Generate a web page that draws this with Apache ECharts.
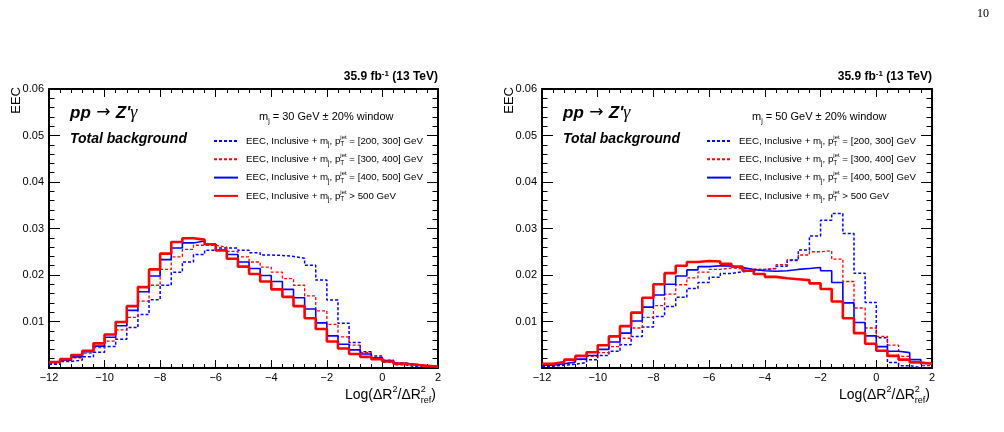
<!DOCTYPE html>
<html style="height: 100%">
<head>
<meta charset="utf-8">
<script src="https://cdn.jsdelivr.net/npm/echarts@6/dist/echarts.min.js"></script>
</head>
<body style="height: 100%; margin: 0; background: #fff">
<div id="container" style="width: 1004px; height: 432px"></div>
<script type="text/javascript">
// bin edges, Log(dR^2/dR^2_ref), 0.4 wide
var binEdges = [-12, -11.6, -11.2, -10.8, -10.4, -10, -9.6, -9.2, -8.8, -8.4,
  -8, -7.6, -7.2, -6.8, -6.4, -6, -5.6, -5.2, -4.8, -4.4,
  -4, -3.6, -3.2, -2.8, -2.4, -2, -1.6, -1.2, -0.8, -0.4,
  0, 0.4, 0.8, 1.2, 1.6, 2];

var ptBins = ['[200, 300] GeV', '[300, 400] GeV', '[400, 500] GeV', '> 500 GeV'];
var massWindows = ['30', '50'];
var xTicks = [-12, -10, -8, -6, -4, -2, 0, 2];
var yTicks = [0.01, 0.02, 0.03, 0.04, 0.05, 0.06];

// left panel, m_j = 30 GeV
var left200 = [0.0008, 0.0014, 0.0017, 0.0024, 0.0034,
  0.0046, 0.0062, 0.0087, 0.0115, 0.0147,
  0.0178, 0.0206, 0.0228, 0.0244, 0.0253,
  0.0258, 0.0258, 0.0253, 0.0248, 0.0243,
  0.0242, 0.0240, 0.0236, 0.0221, 0.0189,
  0.0146, 0.0096, 0.0055, 0.0035, 0.0026,
  0.0013, 0.0007, 0.0003, 0.0002, 0.0001];
var left300 = [0.0010, 0.0016, 0.0022, 0.0032, 0.0044,
  0.0058, 0.0082, 0.0109, 0.0144, 0.0178,
  0.0212, 0.0239, 0.0255, 0.0264, 0.0264,
  0.0260, 0.0251, 0.0239, 0.0228, 0.0217,
  0.0206, 0.0192, 0.0178, 0.0155, 0.0123,
  0.0094, 0.0067, 0.0049, 0.0033, 0.0022,
  0.0017, 0.0011, 0.0007, 0.0003, 0.0002];
var left400 = [0.0012, 0.0017, 0.0024, 0.0035, 0.0047,
  0.0066, 0.0091, 0.0124, 0.0164, 0.0198,
  0.0233, 0.0258, 0.0269, 0.0273, 0.0266,
  0.0254, 0.0244, 0.0228, 0.0214, 0.0199,
  0.0186, 0.0169, 0.0151, 0.0127, 0.0097,
  0.0069, 0.0051, 0.0039, 0.0030, 0.0022,
  0.0016, 0.0010, 0.0008, 0.0005, 0.0003];
var left500 = [0.0013, 0.0019, 0.0028, 0.0037, 0.0053,
  0.0072, 0.0099, 0.0133, 0.0174, 0.0212,
  0.0246, 0.0271, 0.0279, 0.0276, 0.0266,
  0.0253, 0.0235, 0.0218, 0.0202, 0.0186,
  0.0169, 0.0153, 0.0133, 0.0107, 0.0084,
  0.0057, 0.0042, 0.0030, 0.0024, 0.0019,
  0.0014, 0.0009, 0.0007, 0.0005, 0.0003];

// right panel, m_j = 50 GeV
var right200 = [0.0004, 0.0006, 0.0008, 0.0012, 0.0018,
  0.0027, 0.0036, 0.0050, 0.0068, 0.0088,
  0.0111, 0.0132, 0.0152, 0.0171, 0.0184,
  0.0195, 0.0203, 0.0207, 0.0209, 0.0212,
  0.0214, 0.0219, 0.0231, 0.0254, 0.0284,
  0.0318, 0.0332, 0.0289, 0.0204, 0.0141,
  0.0065, 0.0012, 0.0005, 0.0001, 0.0000];
var right300 = [0.0006, 0.0009, 0.0012, 0.0018, 0.0025,
  0.0033, 0.0046, 0.0064, 0.0086, 0.0109,
  0.0134, 0.0159, 0.0179, 0.0194, 0.0206,
  0.0212, 0.0215, 0.0213, 0.0213, 0.0212,
  0.0214, 0.0222, 0.0233, 0.0243, 0.0250,
  0.0252, 0.0234, 0.0186, 0.0129, 0.0086,
  0.0068, 0.0049, 0.0025, 0.0013, 0.0005];
var right400 = [0.0006, 0.0009, 0.0013, 0.0019, 0.0027,
  0.0040, 0.0056, 0.0075, 0.0101, 0.0131,
  0.0157, 0.0180, 0.0198, 0.0211, 0.0218,
  0.0220, 0.0219, 0.0216, 0.0212, 0.0209,
  0.0208, 0.0209, 0.0212, 0.0214, 0.0216,
  0.0209, 0.0184, 0.0140, 0.0098, 0.0069,
  0.0046, 0.0036, 0.0033, 0.0018, 0.0010];
var right500 = [0.0009, 0.0013, 0.0018, 0.0026, 0.0034,
  0.0049, 0.0068, 0.0090, 0.0119, 0.0151,
  0.0180, 0.0204, 0.0220, 0.0228, 0.0230,
  0.0229, 0.0224, 0.0218, 0.0209, 0.0202,
  0.0196, 0.0193, 0.0191, 0.0189, 0.0182,
  0.0170, 0.0143, 0.0107, 0.0075, 0.0052,
  0.0037, 0.0026, 0.0018, 0.0012, 0.0009];

var FONT = 'Liberation Sans, Arial, Helvetica, sans-serif';
var seriesNames = ptBins.map(function (b) { return 'EEC, Inclusive + m_j, p_T^jet ' + (b.charAt(0) === '>' ? b : '= ' + b); });
var styles = [
  { color: '#0000ff', width: 1.5, type: [3, 2] },
  { color: '#ff0000', width: 1.3, type: [3, 2] },
  { color: '#0000ff', width: 1.6, type: 'solid' },
  { color: '#ff0000', width: 2.6, type: 'solid' }
];

// histogram as step line: one point per left edge + closing point at last edge
function histData(vals) {
  var d = [];
  for (var i = 0; i < vals.length; i++) d.push([binEdges[i], vals[i]]);
  d.push([binEdges[vals.length], vals[vals.length - 1]]);
  return d;
}

function legendText(name) {
  var tail = name.split('p_T^jet ')[1];
  return '{t|EEC, Inclusive + m}{s|j}{t|, p}{s0|T}{p|jet}{t| ' + tail + '}';
}

var grids = [
  { left: 49, top: 89, width: 389, height: 279 },
  { left: 542, top: 89, width: 390, height: 279 }
];

var xAxes = [], yAxes = [], series = [], legends = [], graphics = [];

function minus(v) { return v < 0 ? '\u2212' + (-v) : String(v); }

grids.forEach(function (g, gi) {
  ['bottom', 'top'].forEach(function (pos) {
    xAxes.push({
      gridIndex: gi, type: 'value', position: pos, min: -12, max: 2, interval: 2,
      axisLine: { show: true, onZero: false, lineStyle: { color: '#000', width: 2 } },
      axisTick: { show: true, inside: true, length: 8, lineStyle: { color: '#000', width: 1 } },
      minorTick: { show: true, splitNumber: 5, length: 4, lineStyle: { color: '#000', width: 1 } },
      splitLine: { show: false },
      axisLabel: {
        show: pos === 'bottom', margin: 4, fontSize: 11, color: '#000', fontFamily: FONT,
        showMinLabel: true, showMaxLabel: true,
        formatter: function (v) { return xTicks.indexOf(v) >= 0 ? minus(v) : ''; }
      }
    });
  });
  ['left', 'right'].forEach(function (pos) {
    yAxes.push({
      gridIndex: gi, type: 'value', position: pos, min: 0, max: 0.06, interval: 0.01,
      axisLine: { show: true, onZero: false, lineStyle: { color: '#000', width: 2 } },
      axisTick: { show: true, inside: true, length: 11, lineStyle: { color: '#000', width: 1 } },
      minorTick: { show: true, splitNumber: 5, length: 5.5, lineStyle: { color: '#000', width: 1 } },
      splitLine: { show: false },
      axisLabel: {
        show: pos === 'left', margin: 5, fontSize: 11, color: '#000', fontFamily: FONT,
        showMaxLabel: true,
        formatter: function (v) {
          for (var k = 0; k < yTicks.length; k++) if (Math.abs(yTicks[k] - v) < 1e-9) return yTicks[k].toFixed(2);
          return '';
        }
      }
    });
  });

  var panelData = gi === 0 ? [left200, left300, left400, left500] : [right200, right300, right400, right500];
  panelData.forEach(function (vals, si) {
    series.push({
      name: seriesNames[si], type: 'line', step: 'end', symbol: 'none',
      xAxisIndex: gi * 2, yAxisIndex: gi * 2,
      color: styles[si].color,
      lineStyle: { color: styles[si].color, width: styles[si].width, type: styles[si].type },
      data: histData(vals), z: 2 + si
    });
  });

  var x0 = g.left, x1 = g.left + g.width;
  legends.push({
    data: seriesNames, orient: 'vertical', left: x0 + 164, top: 134, padding: 0,
    itemWidth: 24, itemHeight: 14, itemGap: 4.3, selectedMode: false,
    itemStyle: { opacity: 0 },
    textStyle: {
      color: '#000', fontFamily: FONT, fontSize: 9.7, padding: [0, 0, 0, 3],
      rich: {
        t: { fontSize: 9.7, lineHeight: 14, fontFamily: FONT, color: '#000' },
        s: { fontSize: 6.5, lineHeight: 6, verticalAlign: 'bottom', fontFamily: FONT, color: '#000' },
        s0: { fontSize: 6.5, lineHeight: 6, width: 0, align: 'left', verticalAlign: 'bottom', fontFamily: FONT, color: '#000' },
        p: { fontSize: 6, lineHeight: 6, verticalAlign: 'top', fontFamily: FONT, color: '#000' }
      }
    },
    formatter: legendText
  });

  // lumi label
  graphics.push({
    type: 'text', x: x1, y: 84,
    style: {
      text: '{b|35.9 fb}{u|-1}{b| (13 TeV)}', fill: '#000', align: 'right', verticalAlign: 'bottom',
      rich: {
        b: { fontSize: 12, fontWeight: 'bold', fontFamily: FONT, lineHeight: 14, fill: '#000' },
        u: { fontSize: 8, fontWeight: 'bold', fontFamily: FONT, lineHeight: 7, verticalAlign: 'top', fill: '#000' }
      }
    }
  });
  // y title
  graphics.push({
    type: 'text', x: x0 - 33, y: 87, rotation: Math.PI / 2,
    style: { text: 'EEC', fill: '#000', font: '13px ' + FONT, align: 'right', verticalAlign: 'middle' }
  });
  // process
  graphics.push({
    type: 'text', x: x0 + 21, y: 113,
    style: {
      text: '{bi|pp}{n| \u2192 }{bi|Z\'}{g|\u03b3}', fill: '#000', align: 'left', verticalAlign: 'middle',
      rich: {
        bi: { fontSize: 17, fontWeight: 'bold', fontStyle: 'italic', fontFamily: FONT, fill: '#000' },
        n: { fontSize: 17, fontFamily: 'DejaVu Sans, sans-serif', fill: '#000' },
        g: { fontSize: 18, fontStyle: 'italic', fontFamily: 'Liberation Serif, serif', fill: '#000' }
      }
    }
  });
  graphics.push({
    type: 'text', x: x0 + 21, y: 139,
    style: { text: 'Total background', fill: '#000', font: 'italic bold 14px ' + FONT, align: 'left', verticalAlign: 'middle' }
  });
  // mass window
  graphics.push({
    type: 'text', x: x0 + 210, y: 117,
    style: {
      text: '{t|m}{s|j}{t| = ' + massWindows[gi] + ' GeV \u00b1 20% window}', fill: '#000', align: 'left', verticalAlign: 'middle',
      rich: {
        t: { fontSize: 11, lineHeight: 16, fontFamily: FONT, fill: '#000' },
        s: { fontSize: 7, lineHeight: 7, verticalAlign: 'bottom', fontFamily: FONT, fill: '#000' }
      }
    }
  });
  // x title, left-anchored so the stacked 2/ref tokens line up
  graphics.push({
    type: 'text', x: x1 - 93, y: 395,
    style: {
      text: '{t|Log(\u0394R}{p|2}{t|/\u0394R}{p0|2}{s|ref}{t|)}', fill: '#000', align: 'left', verticalAlign: 'middle',
      rich: {
        t: { fontSize: 14, lineHeight: 20, fontFamily: FONT, fill: '#000' },
        p: { fontSize: 9, lineHeight: 9, verticalAlign: 'top', fontFamily: FONT, fill: '#000' },
        p0: { fontSize: 9, lineHeight: 9, width: 0, align: 'left', verticalAlign: 'top', fontFamily: FONT, fill: '#000' },
        s: { fontSize: 9, lineHeight: 9, verticalAlign: 'bottom', fontFamily: FONT, fill: '#000' }
      }
    }
  });
});

// page number
graphics.push({
  type: 'text', x: 989, y: 14,
  style: { text: '10', fill: '#000', font: '12px Liberation Serif, serif', align: 'right', verticalAlign: 'middle' }
});

var dom = document.getElementById('container');
var myChart = echarts.init(dom, null, { renderer: 'canvas' });
var option = {
  animation: false,
  backgroundColor: '#fff',
  textStyle: { fontFamily: FONT },
  grid: grids,
  xAxis: xAxes,
  yAxis: yAxes,
  legend: legends,
  graphic: graphics,
  series: series
};
myChart.setOption(option);
</script>
</body>
</html>
